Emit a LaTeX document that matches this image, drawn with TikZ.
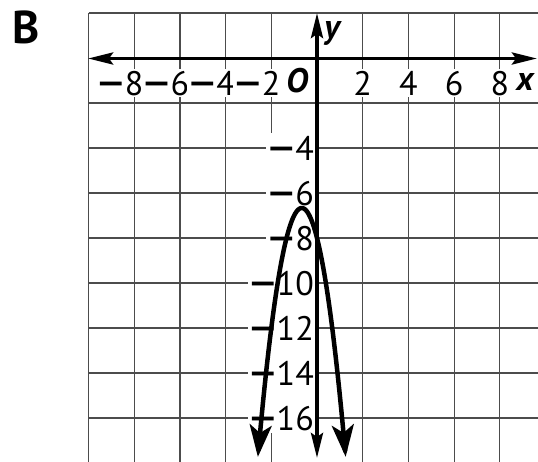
\documentclass[tikz,border=0pt]{standalone}
\usepackage{fontspec}
\setmainfont{PT Sans}
\usepackage{graphicx}
\usetikzlibrary{arrows.meta}
\newcommand{\mns}{\scalebox{1.45}[1]{\bfseries −}\hspace{1pt}}
\tikzset{
  axtip/.tip={Stealth[length=25pt,width=12pt,inset=4pt]},
  curvetip/.tip={Stealth[length=32pt,width=22pt,inset=8pt]},
}
\begin{document}
\begin{tikzpicture}[x=1pt,y=-1pt,
  gridline/.style={line width=1.2pt, black!70},
  axisline/.style={line width=3.8pt, black},
  lbl/.style={font=\fontsize{34}{34}\selectfont, fill=white, inner sep=2pt},
  axname/.style={font=\fontsize{34}{34}\selectfont\bfseries\itshape, inner sep=0pt},
  ]
\useasboundingbox (0,0) rectangle (538,461);
\begin{scope}
\clip (0,0) rectangle (538,461);
\foreach \gx in {88.5,134.2,179.9,225.6,362.7,408.4,454.1,499.8}
  \draw[gridline] (\gx,13) -- (\gx,470);
\draw[gridline] (271.3,13) -- (271.3,133);
\draw[gridline] (271.3,433) -- (271.3,470);
\foreach \gy in {13,103,148,193,238,283,328,373,418,463}
  \draw[gridline] (88.5,\gy) -- (545,\gy);
\end{scope}
% x labels
\node[lbl, anchor=base east] (xm8) at (145.6,95) {\mns8};
\node[lbl, anchor=base east] (xm6) at (191.3,95) {\mns6};
\node[lbl, anchor=base east] (xm4) at (237.0,95) {\mns4};
\node[lbl, anchor=base east] (xm2) at (282.7,95) {\mns2};
\node[lbl, anchor=base] (xp2) at (362.7,95) {2};
\node[lbl, anchor=base] (xp4) at (408.4,95) {4};
\node[lbl, anchor=base] (xp6) at (454.1,95) {6};
\node[lbl, anchor=base] (xp8) at (499.8,95) {8};
% y labels
\node[lbl, anchor=base east] (ym4) at (316,160) {\mns4\hspace{6pt}};
\node[lbl, anchor=base east] (ym6) at (316,205) {\mns6\hspace{6pt}};
\node[lbl, anchor=base east] (ym8) at (316,250) {\mns8\hspace{6pt}};
\node[lbl, anchor=base east] (ym10) at (316,295) {\mns10\hspace{6pt}};
\node[lbl, anchor=base east] (ym12) at (316,340) {\mns12\hspace{6pt}};
\node[lbl, anchor=base east] (ym14) at (316,385) {\mns14\hspace{6pt}};
\node[lbl, anchor=base east] (ym16) at (316,430) {\mns16\hspace{6pt}};
% axis names
\node[axname] (origin) at (297,81) {O};
\node[axname] (xname) at (525,82) {x};
\node[axname] (yname) at (332,33) {y};
\node[font=\fontsize{46}{46}\selectfont\bfseries, inner sep=0pt, anchor=base west] (part) at (12,43) {B};
% axes
\coordinate (xl) at (88,58.5);
\coordinate (xr) at (537,58.5);
\coordinate (yt) at (317,13);
\coordinate (yb) at (317,458);
\draw[axisline, axtip-axtip] (xl) -- (xr);
\draw[axisline, axtip-axtip] (yb) -- (yt);
% curve
\begin{scope}[shift={(317,58)}, x=22.85pt, y=22.5pt]
\draw[line width=4.5pt, line join=round, curvetip-curvetip]
  plot[domain=-2.587:1.254, samples=120, smooth] (\x,{-3*\x*\x-4*\x-8});
\end{scope}
\end{tikzpicture}
\end{document}
